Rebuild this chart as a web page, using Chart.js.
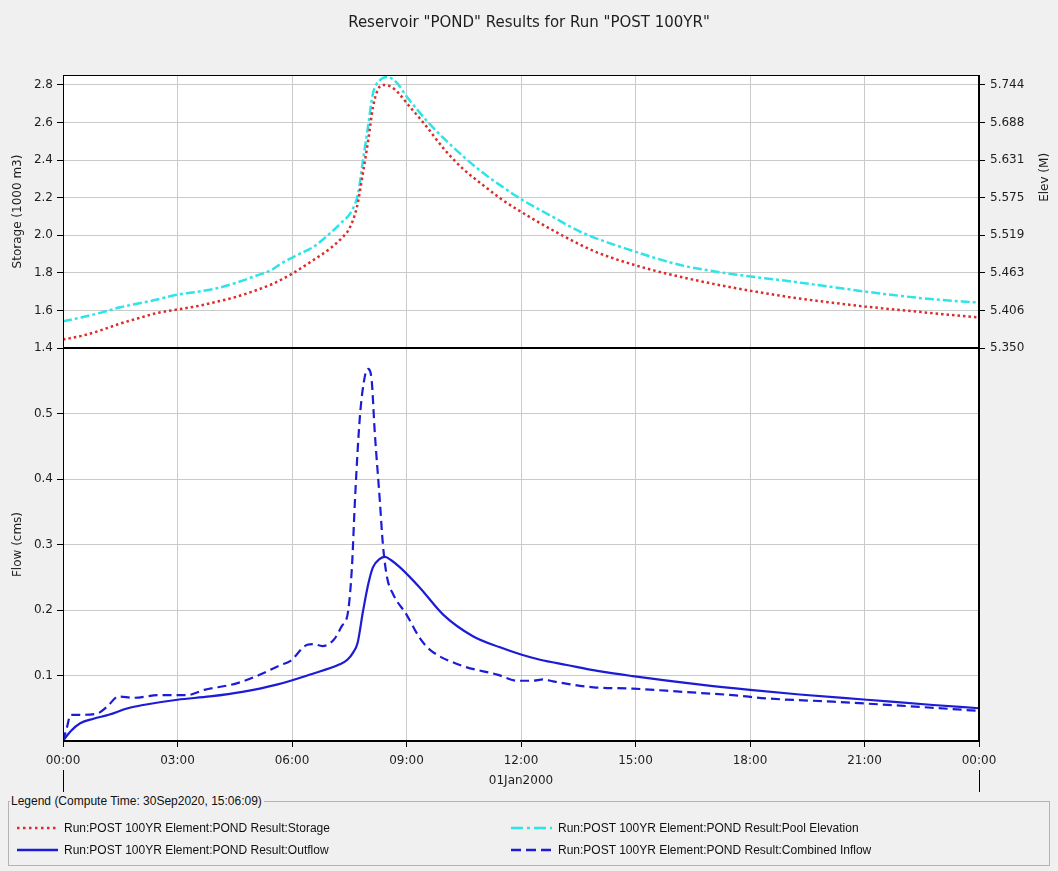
<!DOCTYPE html>
<html><head><meta charset="utf-8">
<script src="https://cdn.jsdelivr.net/npm/chart.js@4/dist/chart.umd.min.js"></script>
<style>
html,body{margin:0;padding:0;background:#f0f0f0;width:1058px;height:871px;overflow:hidden;}
#wrap{position:absolute;left:0;top:0;width:1058px;height:800px;}
#legend{position:absolute;left:8px;top:801px;width:1040px;height:63px;border:1px solid #b4b4b4;font-family:"Liberation Sans",Arial,sans-serif;font-size:12px;color:#111;}
#legend .ttl{position:absolute;left:1px;top:-8px;background:#f0f0f0;padding:0 2px 0 1px;line-height:14px;}
.item{position:absolute;display:flex;align-items:center;height:16px;white-space:nowrap;}
.item svg{margin-right:6px;}
</style></head>
<body>
<div id="wrap"><canvas id="c" width="1058" height="800"></canvas></div>
<div id="legend"><span class="ttl">Legend (Compute Time: 30Sep2020, 15:06:09)</span></div>
<script>
// ---- data (hours since 01Jan2000 00:00) ----
const storageHours = [0,0.5,1,1.5,2,2.5,3,3.5,4,4.5,5,5.5,6,6.5,7,7.3,7.5,7.7,7.85,8,8.12,8.25,8.4,8.6,8.8,9,9.5,10,10.5,11,11.5,12,12.5,13,13.5,14,14.5,15,15.5,16,16.5,17,17.5,18,19,20,21,22,23,24];
const storageValues = [1.445,1.465,1.495,1.530,1.560,1.588,1.605,1.622,1.645,1.670,1.703,1.742,1.795,1.860,1.930,1.985,2.035,2.150,2.320,2.510,2.680,2.775,2.800,2.790,2.755,2.705,2.585,2.455,2.350,2.268,2.190,2.125,2.065,2.008,1.955,1.908,1.872,1.840,1.812,1.787,1.764,1.743,1.723,1.705,1.672,1.645,1.621,1.601,1.581,1.562];

const elevHours = [0,0.5,1,1.5,2,2.5,3,3.5,4,4.5,5,5.5,5.7,6.2,6.55,7,7.26,7.57,7.73,7.86,7.99,8.12,8.3,8.49,8.75,9,9.6,10.2,10.9,11.45,12,12.75,13.6,14.9,16.2,17.5,18.9,20.2,21.5,22.8,24];
const elevValues = [5.390,5.396,5.403,5.411,5.417,5.423,5.430,5.434,5.439,5.447,5.457,5.468,5.476,5.491,5.501,5.522,5.536,5.556,5.581,5.631,5.681,5.731,5.751,5.756,5.747,5.727,5.686,5.652,5.617,5.594,5.573,5.549,5.523,5.496,5.474,5.461,5.451,5.441,5.431,5.423,5.418];

const outflowHours = [0,0.1,0.2,0.45,0.8,1.2,1.7,2.1,3,3.85,4.7,5.6,6.5,7.25,7.45,7.6,7.72,7.86,8,8.12,8.3,8.44,8.6,8.83,9.35,9.96,10.74,11.45,12,12.5,13.2,14,14.93,16.7,18,19.3,21.06,22.8,24];
const outflowValues = [0,0.008,0.015,0.027,0.034,0.040,0.050,0.055,0.063,0.068,0.075,0.086,0.102,0.117,0.124,0.135,0.150,0.198,0.240,0.265,0.278,0.281,0.276,0.265,0.234,0.193,0.160,0.143,0.132,0.124,0.116,0.107,0.099,0.086,0.078,0.071,0.063,0.055,0.050];

const inflowHours = [0,0.1,0.2,0.45,0.9,1.15,1.45,1.85,2.5,3.25,3.7,4.55,5.15,5.7,5.95,6.4,6.55,6.8,7.1,7.3,7.47,7.57,7.65,7.78,7.91,7.99,8.08,8.17,8.3,8.38,8.49,8.65,9,9.35,9.6,10.4,11.4,11.9,12.3,12.58,12.84,13.9,14.93,16.24,17.55,18.44,20.17,21.93,24];
const inflowValues = [0,0.020,0.040,0.040,0.042,0.052,0.068,0.066,0.070,0.070,0.078,0.088,0.101,0.116,0.122,0.147,0.148,0.145,0.155,0.175,0.198,0.265,0.368,0.496,0.557,0.568,0.555,0.470,0.368,0.301,0.250,0.224,0.193,0.157,0.140,0.116,0.101,0.092,0.092,0.094,0.091,0.082,0.080,0.075,0.070,0.065,0.060,0.054,0.046];

// ---- ticks ----
const timeTicks = [0,3,6,9,12,15,18,21,24];
const timeLabels = ['00:00','03:00','06:00','09:00','12:00','15:00','18:00','21:00','00:00'];
const storageTicks = [1.4,1.6,1.8,2.0,2.2,2.4,2.6,2.8];
const elevTickLabels = ['5.350','5.406','5.463','5.519','5.575','5.631','5.688','5.744'];
const flowTicks = [0.1,0.2,0.3,0.4,0.5];

const seriesNames = [
  'Run:POST 100YR Element:POND Result:Storage',
  'Run:POST 100YR Element:POND Result:Pool Elevation',
  'Run:POST 100YR Element:POND Result:Outflow',
  'Run:POST 100YR Element:POND Result:Combined Inflow'
];

const STOR_MIN = 1.4, STOR_MAX = 2.853, FLOW_MIN = 0, FLOW_MAX = 0.6;
const elevMin = parseFloat(elevTickLabels[0]);
const elevK = (parseFloat(elevTickLabels[elevTickLabels.length-1]) - elevMin) / (storageTicks[storageTicks.length-1] - storageTicks[0]);
const elevMax = elevMin + (STOR_MAX - STOR_MIN) * elevK;

const RED = '#dd2b2b', CYAN = '#2ee4e8', BLUE = '#1c1cd6';
const pts = (xs, ys) => xs.map((x, i) => ({x, y: ys[i]}));

const FONT = {family: '"DejaVu Sans", sans-serif', size: 12};
const TXT = '#1e1e1e';

const framePlugin = {
  id: 'frame',
  beforeDraw(c) {
    const {ctx, chartArea: a} = c;
    ctx.save(); ctx.fillStyle = '#fff';
    ctx.fillRect(a.left, a.top, a.right - a.left, a.bottom - a.top);
    ctx.restore();
  },
  afterDraw(c) {
    const {ctx, chartArea: a, scales} = c;
    ctx.save();
    ctx.strokeStyle = '#000'; ctx.lineWidth = 1;
    ctx.strokeRect(Math.round(a.left) + 0.5, Math.round(a.top) + 0.5, Math.round(a.right - a.left) - 1, Math.round(a.bottom - a.top) - 1);
    // divider between panels
    ctx.lineWidth = 2;
    const yd = Math.round(scales.yS.bottom);
    ctx.beginPath(); ctx.moveTo(a.left, yd); ctx.lineTo(a.right, yd); ctx.stroke();
    // day boundary marks below axis
    ctx.lineWidth = 1;
    [timeTicks[0], timeTicks[timeTicks.length-1]].forEach(v => {
      const px = Math.round(scales.x.getPixelForValue(v)) + 0.5;
      ctx.beginPath(); ctx.moveTo(px, scales.x.top + 29); ctx.lineTo(px, scales.x.top + 51); ctx.stroke();
    });
    // right axis title
    ctx.fillStyle = TXT; ctx.font = '12px "DejaVu Sans", sans-serif';
    ctx.textAlign = 'center'; ctx.textBaseline = 'middle';
    ctx.translate(1045, scales.yE.top + (scales.yE.bottom - scales.yE.top) * 0.375);
    ctx.rotate(-Math.PI / 2);
    ctx.fillText('Elev (M)', 0, 0);
    ctx.restore();
  }
};

new Chart(document.getElementById('c'), {
  type: 'line',
  data: {
    datasets: [
      {label: seriesNames[0], data: pts(storageHours, storageValues), yAxisID: 'yS', borderColor: RED, borderWidth: 2.5, borderDash: [2.5, 3], pointRadius: 0, cubicInterpolationMode: 'monotone', fill: false},
      {label: seriesNames[1], data: pts(elevHours, elevValues), yAxisID: 'yE', borderColor: CYAN, borderWidth: 2.5, borderDash: [9, 3, 3, 3], pointRadius: 0, cubicInterpolationMode: 'monotone', fill: false},
      {label: seriesNames[2], data: pts(outflowHours, outflowValues), yAxisID: 'yQ', borderColor: BLUE, borderWidth: 2.2, pointRadius: 0, cubicInterpolationMode: 'monotone', fill: false},
      {label: seriesNames[3], data: pts(inflowHours, inflowValues), yAxisID: 'yQ', borderColor: BLUE, borderWidth: 2.2, borderDash: [9, 5], pointRadius: 0, cubicInterpolationMode: 'monotone', fill: false}
    ]
  },
  options: {
    responsive: false,
    animation: false,
    events: [],
    layout: {padding: 0},
    plugins: {
      legend: {display: false},
      tooltip: {enabled: false},
      title: {display: true, text: 'Reservoir "POND" Results for Run "POST 100YR"', color: TXT,
        font: {family: '"DejaVu Sans", sans-serif', size: 15, weight: 'normal'}, padding: {top: 14, bottom: 43}}
    },
    scales: {
      x: {
        type: 'linear', position: 'bottom', min: 0, max: 24,
        afterBuildTicks: s => { s.ticks = timeTicks.map(v => ({value: v})); },
        afterFit: s => { s.height = 59; },
        ticks: {callback: (v, i) => timeLabels[i], autoSkip: false, maxRotation: 0, font: FONT, color: TXT, padding: 7},
        grid: {color: '#cacaca', tickColor: '#000', tickLength: 6},
        border: {color: '#000'},
        title: {display: true, text: '01Jan2000', font: FONT, color: TXT, padding: {top: 2, bottom: 12}}
      },
      // left boxes are stacked in reverse declaration order: flow (bottom) first, storage (top) second
      yQ: {
        type: 'linear', position: 'left', stack: 'v', stackWeight: 393, min: FLOW_MIN, max: FLOW_MAX,
        afterBuildTicks: s => { s.ticks = flowTicks.map(v => ({value: v})); },
        afterFit: s => { s.width = 63; },
        ticks: {callback: v => v.toFixed(1), font: FONT, color: TXT, padding: 4},
        grid: {color: '#cacaca', tickColor: '#000', tickLength: 6},
        border: {color: '#000'},
        title: {display: true, text: 'Flow (cms)', font: FONT, color: TXT, padding: {top: 11, bottom: 0}}
      },
      yS: {
        type: 'linear', position: 'left', stack: 'v', stackWeight: 273, min: STOR_MIN, max: STOR_MAX,
        afterBuildTicks: s => { s.ticks = storageTicks.map(v => ({value: v})); },
        afterFit: s => { s.width = 63; },
        ticks: {callback: v => v.toFixed(1), font: FONT, color: TXT, padding: 4},
        grid: {color: '#cacaca', tickColor: '#000', tickLength: 6},
        border: {color: '#000'},
        title: {display: true, text: 'Storage (1000 m3)', font: FONT, color: TXT, padding: {top: 11, bottom: 0}}
      },
      yE: {
        type: 'linear', position: 'right', stack: 'r', stackWeight: 273, min: elevMin, max: elevMax,
        afterBuildTicks: s => { s.ticks = storageTicks.map(v => ({value: elevMin + (v - storageTicks[0]) * elevK})); },
        afterFit: s => { s.width = 79; },
        ticks: {callback: (v, i) => elevTickLabels[i], font: FONT, color: TXT, padding: 5},
        grid: {drawOnChartArea: false, tickColor: '#000', tickLength: 6},
        border: {color: '#000'}
      },
      yR: {
        type: 'linear', position: 'right', stack: 'r', stackWeight: 393, min: FLOW_MIN, max: FLOW_MAX,
        afterFit: s => { s.width = 79; },
        ticks: {display: false},
        grid: {display: false},
        border: {color: '#000'}
      }
    }
  },
  plugins: [framePlugin]
});

// ---- HTML legend ----
const legendStyles = [
  {color: RED, width: 2.5, dash: '2.5 3.5'},
  {color: CYAN, width: 2.5, dash: '12 4 3 4'},
  {color: BLUE, width: 2.5, dash: ''},
  {color: BLUE, width: 2.5, dash: '10 5'}
];
const legendPos = [[8, 18], [502, 18], [8, 40], [502, 40]];
const lg = document.getElementById('legend');
seriesNames.forEach((name, i) => {
  const st = legendStyles[i];
  const d = document.createElement('div');
  d.className = 'item';
  d.style.left = legendPos[i][0] + 'px';
  d.style.top = legendPos[i][1] + 'px';
  d.innerHTML = '<svg width="41" height="6"><line x1="0" y1="3" x2="41" y2="3" stroke="' + st.color + '" stroke-width="' + st.width + '"' + (st.dash ? ' stroke-dasharray="' + st.dash + '"' : '') + '/></svg><span>' + name + '</span>';
  lg.appendChild(d);
});
</script>
</body></html>
